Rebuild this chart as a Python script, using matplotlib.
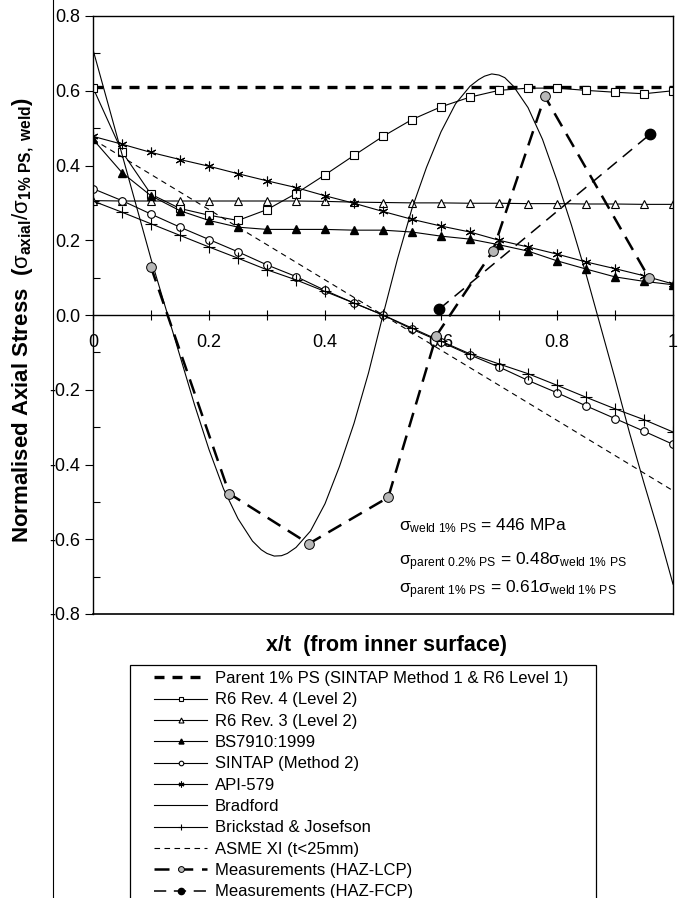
import matplotlib
matplotlib.use("Agg")
import matplotlib.pyplot as plt
from matplotlib.lines import Line2D
from matplotlib.patches import Rectangle

plt.rcParams['font.family'] = ['Liberation Sans', 'DejaVu Sans']
plt.rcParams['mathtext.fontset'] = 'custom'
plt.rcParams['mathtext.rm'] = 'Liberation Sans'
plt.rcParams['mathtext.it'] = 'Liberation Sans'
plt.rcParams['mathtext.bf'] = 'Liberation Sans:bold'

# x/t positions of the marked points (every 0.05)
x_grid = [0.0, 0.05, 0.1, 0.15, 0.2, 0.25, 0.3, 0.35, 0.4, 0.45, 0.5,
          0.55, 0.6, 0.65, 0.7, 0.75, 0.8, 0.85, 0.9, 0.95, 1.0]

parent_x = [0.0, 1.0]
parent_y = [0.61, 0.61]

r6_rev4 = [0.608, 0.437, 0.323, 0.285, 0.267, 0.253, 0.282, 0.325, 0.375, 0.427, 0.478,
           0.523, 0.557, 0.583, 0.601, 0.607, 0.607, 0.601, 0.596, 0.592, 0.600]
r6_rev3 = [0.306, 0.305, 0.305, 0.305, 0.305, 0.305, 0.305, 0.305, 0.304, 0.302, 0.301,
           0.300, 0.300, 0.299, 0.299, 0.298, 0.298, 0.297, 0.297, 0.296, 0.296]
bs7910 = [0.470, 0.381, 0.319, 0.279, 0.253, 0.235, 0.229, 0.229, 0.229, 0.227, 0.227,
          0.222, 0.211, 0.203, 0.188, 0.171, 0.145, 0.123, 0.102, 0.090, 0.081]
sintap = [0.338, 0.306, 0.270, 0.235, 0.202, 0.169, 0.134, 0.103, 0.066, 0.032, 0.000,
          -0.038, -0.072, -0.107, -0.139, -0.175, -0.208, -0.243, -0.277, -0.311, -0.346]
api579 = [0.478, 0.457, 0.435, 0.416, 0.398, 0.378, 0.359, 0.341, 0.319, 0.299, 0.277,
          0.256, 0.238, 0.222, 0.200, 0.182, 0.163, 0.142, 0.124, 0.105, 0.083]
brickstad = [0.305, 0.275, 0.244, 0.213, 0.182, 0.152, 0.121, 0.094, 0.063, 0.032, 0.000,
             -0.035, -0.070, -0.104, -0.131, -0.157, -0.188, -0.220, -0.251, -0.280, -0.313]

bradford_x = [0.0, 0.025, 0.05, 0.075, 0.1, 0.125, 0.15, 0.175, 0.2, 0.225, 0.25,
              0.275, 0.29, 0.3, 0.3125, 0.325, 0.335, 0.35, 0.375, 0.4, 0.425, 0.45, 0.475, 0.5,
              0.525, 0.55, 0.575, 0.6, 0.625, 0.65, 0.665, 0.675, 0.6875, 0.7, 0.71, 0.725, 0.75,
              0.775, 0.8, 0.825, 0.85, 0.875, 0.9, 0.925, 0.95, 0.975, 1.0]
bradford_y = [0.71, 0.57, 0.43, 0.29, 0.15, 0.02, -0.11, -0.24, -0.36, -0.465, -0.545,
              -0.605, -0.628, -0.638, -0.645, -0.644, -0.638, -0.622, -0.578, -0.505, -0.405,
              -0.29, -0.155, 0.0,
              0.15, 0.285, 0.395, 0.49, 0.565, 0.612, 0.63, 0.639, 0.645, 0.642, 0.635, 0.612,
              0.555, 0.47, 0.36, 0.24, 0.11, -0.03, -0.17, -0.315, -0.45, -0.58, -0.72]

asme_x = [0.0, 0.5, 1.0]
asme_y = [0.47, 0.0, -0.47]

lcp_x = [0.10, 0.235, 0.372, 0.509, 0.592, 0.689, 0.779, 0.959]
lcp_y = [0.128, -0.478, -0.612, -0.488, -0.055, 0.170, 0.585, 0.098]

fcp_x = [0.597, 0.960]
fcp_y = [0.016, 0.483]

W, H = 682, 898
fig = plt.figure(figsize=(W / 100, H / 100), dpi=100)
ax = fig.add_axes([93 / W, 1 - 614 / H, 580 / W, 598 / H])

k = dict(color='black', lw=0.8)
h_parent, = ax.plot(parent_x, parent_y, ls=(0, (3, 2.4)), color='black', lw=2.4)
h_r6r4, = ax.plot(x_grid, r6_rev4, marker='s', ms=5.5, mfc='white', mec='black', mew=0.8, **k)
h_r6r3, = ax.plot(x_grid, r6_rev3, marker='^', ms=6, mfc='white', mec='black', mew=0.8, **k)
h_bs, = ax.plot(x_grid, bs7910, marker='^', ms=6, mfc='black', mec='black', **k)
h_sintap, = ax.plot(x_grid, sintap, marker='o', ms=5.5, mfc='white', mec='black', mew=0.8, **k)
h_api, = ax.plot(x_grid, api579, marker=(6, 2, 0), ms=7, mec='black', mew=0.8, **k)
h_brad, = ax.plot(bradford_x, bradford_y, **k)
h_brick, = ax.plot(x_grid, brickstad, marker='+', ms=8, mew=0.8, **k)
h_asme, = ax.plot(asme_x, asme_y, ls=(0, (5, 4)), color='black', lw=0.8)
h_lcp, = ax.plot(lcp_x, lcp_y, ls=(0, (6, 3.5)), color='black', lw=1.8,
                 marker='o', ms=7, mfc='#b8b8b8', mec='black', mew=0.7)
h_fcp, = ax.plot(fcp_x, fcp_y, ls=(0, (8, 5)), color='black', lw=1.1,
                 marker='o', ms=7.5, mfc='black', mec='black')

ax.set_xlim(0, 1)
ax.set_ylim(-0.8, 0.8)

# x axis drawn through y = 0, frame kept at -0.8
ax.spines['bottom'].set_position(('data', 0))
ax.axhline(-0.8, color='black', lw=1.2, clip_on=False)
for s in ax.spines.values():
    s.set_linewidth(1.0)
ax.set_xticks([0, 0.2, 0.4, 0.6, 0.8, 1.0])
ax.set_xticklabels(['0', '0.2', '0.4', '0.6', '0.8', '1'])
ax.set_xticks([0.1, 0.3, 0.5, 0.7, 0.9], minor=True)
ax.tick_params(axis='x', which='both', direction='inout', length=7, width=0.8,
               labelsize=13, pad=10)
ax.set_yticks([-0.8, -0.6, -0.4, -0.2, 0.0, 0.2, 0.4, 0.6, 0.8])
ax.set_yticklabels(['-0.8', '-0.6', '-0.4', '-0.2', '0.0', '0.2', '0.4', '0.6', '0.8'])
ax.set_yticks([-0.7, -0.5, -0.3, -0.1, 0.1, 0.3, 0.5, 0.7], minor=True)
ax.tick_params(axis='y', which='major', direction='out', length=6, width=0.8,
               labelsize=13, pad=3)
ax.tick_params(axis='y', which='minor', direction='in', length=5, width=0.8)

ax.text(0.527, -0.575, r'$\sigma_{\rm weld\ 1\%\ PS}$ = 446 MPa', fontsize=12.5)
ax.text(0.527, -0.67, r'$\sigma_{\rm parent\ 0.2\%\ PS}$ = 0.48$\sigma_{\rm weld\ 1\%\ PS}$',
        fontsize=12.5)
ax.text(0.527, -0.745, r'$\sigma_{\rm parent\ 1\%\ PS}$ = 0.61$\sigma_{\rm weld\ 1\%\ PS}$',
        fontsize=12.5)

fig.text(386 / W, 1 - 645 / H, 'x/t  (from inner surface)', ha='center', va='center',
         fontsize=15.5, fontweight='bold')
fig.text(23 / W, 1 - 320 / H,
         r'Normalised Axial Stress  ($\sigma_{\bf axial}/\sigma_{\bf 1\%\ PS,\ weld}$)',
         rotation=90, ha='center', va='center', fontsize=16, fontweight='bold')

# page edge line and legend frame
fig.add_artist(Line2D([53 / W, 53 / W], [0, 1], color='black', lw=0.8))
fig.add_artist(Rectangle((130 / W, -0.02), (596 - 130) / W, 1 - 665 / H + 0.02,
                         transform=fig.transFigure, fill=False, ec='black', lw=0.9))

handles = [h_parent, h_r6r4, h_r6r3, h_bs, h_sintap, h_api, h_brad, h_brick, h_asme,
           h_lcp, h_fcp]
labels = ['Parent 1% PS (SINTAP Method 1 & R6 Level 1)', 'R6 Rev. 4 (Level 2)',
          'R6 Rev. 3 (Level 2)', 'BS7910:1999', 'SINTAP (Method 2)', 'API-579',
          'Bradford', 'Brickstad & Josefson', 'ASME XI (t<25mm)',
          'Measurements (HAZ-LCP)', 'Measurements (HAZ-FCP)']
fig.legend(handles, labels, loc='upper left', bbox_to_anchor=(154 / W, 1 - 671 / H),
           frameon=False, fontsize=12, handlelength=3.2, handletextpad=0.45,
           labelspacing=0.38, markerscale=0.6, borderpad=0, borderaxespad=0)

fig.savefig('out.png', dpi=100)
